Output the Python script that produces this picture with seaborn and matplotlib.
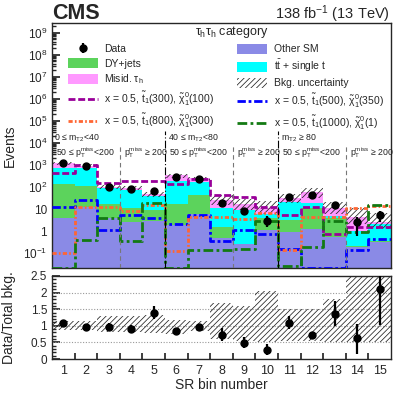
import numpy as np
import pandas as pd
import seaborn as sns
import matplotlib.pyplot as plt
from matplotlib.patches import Patch
from matplotlib.lines import Line2D
from matplotlib.ticker import LogLocator, FuncFormatter, MultipleLocator, NullFormatter

# signal region bins
sr_bins = list(range(1, 16))
bin_edges = [b - 0.5 for b in sr_bins] + [15.5]

# stacked backgrounds, events per bin
other_sm = [4, 12, 3.8, 2.6, 3, 1.8, 6, 0.47, 0.25, 1.1, 0.87, 1.2, 0.55, 0.19, 0.33]
dy_jets = [128, 103, 14, 8.4, 6, 16, 38, 1.1, 0.02, 2.9, 2.3, 9.8, 3.45, 0.02, 0.02]
ttbar = [618, 585, 70, 61, 31, 168, 130, 9.9, 8.7, 1.8, 16.8, 7, 1, 0.8, 1.65]
misid_tau = [430, 240, 12, 15, 6, 164, 76, 14.5, 8, 5.2, 13, 42, 6, 3.2, 0.5]

# observed data
data_events = [1286, 893, 97, 79, 64, 294, 243, 19, 8, 3, 36, 43, 15, 2.6, 5.3]
# stat. uncertainty of data/total (down, up)
ratio_err_lo = [0.05, 0.04, 0.1, 0.12, 0.2, 0.04, 0.06, 0.18, 0.15, 0.14, 0.2, 0.09, 0.38, 0.47, 1.1]
ratio_err_hi = [0.05, 0.04, 0.1, 0.12, 0.22, 0.04, 0.06, 0.2, 0.18, 0.18, 0.21, 0.1, 0.38, 0.43, 1.3]

# bkg. uncertainty band, relative to total bkg.
unc_lo = [0.86, 0.87, 0.8, 0.8, 0.78, 0.75, 0.83, 0.6, 0.55, 0.52, 0.55, 0.55, 0.52, 0.52, 0.52]
unc_hi = [1.14, 1.13, 1.3, 1.3, 1.34, 1.17, 1.15, 1.7, 1.6, 2.05, 1.52, 1.52, 1.8, 2.6, 2.6]

# signal benchmarks
sig_300_100 = [420, 1000, 160, 180, 180, 130, 225, 44, 36, 12.6, 5.3, 12, 0.7, 1.5, 1.5]
sig_500_350 = [12, 25, 1.1, 5.4, 4, 2, 5.4, 0.35, 1.1, 0.7, 0.16, 0.022, 0.022, 0.14, 0.42]
sig_800_300 = [0.1, 12, 12, 8, 16, 0.12, 4.5, 4.5, 3.6, 6.4, 0.14, 4.5, 4.5, 11.5, 14]
sig_1000_1 = [0.022, 0.4, 4, 0.35, 18, 0.022, 0.14, 0.14, 0.16, 3, 0.025, 0.18, 3, 0.9, 16]

col_other = '#8a8ae6'
col_dy = '#5cd35c'
col_tt = '#00ffff'
col_misid = '#ff99ff'
hatch_pat = '//////'

sns.set_theme(style='ticks')
plt.rcParams['font.family'] = ['Liberation Sans', 'DejaVu Sans']
plt.rcParams['mathtext.fontset'] = 'custom'
plt.rcParams['mathtext.rm'] = 'Liberation Sans'
plt.rcParams['mathtext.it'] = 'Liberation Sans'
plt.rcParams['mathtext.sf'] = 'Liberation Sans'
plt.rcParams['mathtext.bf'] = 'Liberation Sans:bold'
plt.rcParams['hatch.linewidth'] = 0.55
plt.rcParams['axes.linewidth'] = 1.0

fig = plt.figure(figsize=(4.11, 3.95), dpi=100)
ax = fig.add_axes([52 / 411, 1 - 268 / 395, 339 / 411, 245 / 395])
ax_r = fig.add_axes([52 / 411, 1 - 359 / 395, 339 / 411, 83 / 395])

# stacked backgrounds
bkg = pd.DataFrame({
    'bin': sr_bins * 4,
    'events': other_sm + dy_jets + ttbar + misid_tau,
    'process': ['Other SM'] * 15 + ['DY+jets'] * 15 + ['ttbar'] * 15 + ['Misid'] * 15,
})
sns.histplot(data=bkg, x='bin', weights='events', hue='process',
             hue_order=['Misid', 'ttbar', 'DY+jets', 'Other SM'],
             palette={'Misid': col_misid, 'ttbar': col_tt, 'DY+jets': col_dy, 'Other SM': col_other},
             multiple='stack', bins=bin_edges, element='step', fill=True, alpha=1,
             linewidth=0, legend=False, ax=ax)

total = np.array(other_sm) + np.array(dy_jets) + np.array(ttbar) + np.array(misid_tau)
band_lo = total * np.array(unc_lo)
band_hi = total * np.array(unc_hi)
ax.fill_between(bin_edges, np.append(band_lo, band_lo[-1]), np.append(band_hi, band_hi[-1]),
                step='post', facecolor='none', edgecolor='#222222', hatch=hatch_pat, linewidth=0, zorder=2)

# signal lines
signals = [
    (sig_300_100, '#990099', (0, (2.5, 1.0))),
    (sig_500_350, '#0000ff', (0, (3.0, 1.0, 1.0, 1.0))),
    (sig_800_300, '#ff6633', (0, (1.5, 0.8, 0.6, 0.8))),
    (sig_1000_1, '#137a13', (0, (3.5, 1.2, 1.0, 1.2))),
]
for vals, c, ls in signals:
    sdf = pd.DataFrame({'bin': sr_bins, 'events': vals})
    sns.histplot(data=sdf, x='bin', weights='events', bins=bin_edges, element='step',
                 fill=False, color=c, linewidth=2.0, linestyle=ls, ax=ax, zorder=4)

data_arr = np.array(data_events)
err_lo = np.array(ratio_err_lo) * total
err_hi = np.array(ratio_err_hi) * total
data_h = ax.errorbar(sr_bins, data_arr, yerr=[err_lo, err_hi], fmt='o', color='black',
                     ms=5, elinewidth=1.6, capsize=0, zorder=6)

ax.set_yscale('log')
ax.set_xlim(0.5, 15.5)
ax.set_ylim(0.021, 2.8e9)
ax.set_xlabel('')
ax.set_ylabel('Events', fontsize=10)
ax.yaxis.set_label_coords(-0.105, 0.5)

def log_fmt(v, pos):
    e = int(round(np.log10(v)))
    if e == 0:
        return '1'
    if e == 1:
        return '10'
    return '$10^{%d}$' % e

ax.yaxis.set_major_locator(LogLocator(base=10, numticks=50))
ax.yaxis.set_minor_locator(LogLocator(base=10, subs=np.arange(2, 10), numticks=50))
ax.yaxis.set_major_formatter(FuncFormatter(log_fmt))
ax.yaxis.set_minor_formatter(NullFormatter())
ax.set_xticks(bin_edges[1:-1])
ax.set_xticklabels([])
ax.tick_params(which='both', direction='in', labelsize=8.5)
ax.tick_params(which='major', length=6)
ax.tick_params(which='minor', length=3)
ax.tick_params(axis='x', length=4)

# region dividers and labels
for xd in [5.5, 10.5]:
    ax.axvline(xd, ymin=0, ymax=0.56, color='black', lw=0.8, ls=(0, (7, 2, 1, 2)), zorder=5)
for xd in [3.5, 8.5, 13.5]:
    ax.axvline(xd, ymin=0, ymax=0.5, color='#777777', lw=0.8, ls=(0, (4, 3)), zorder=5)

mt2_labels = ['0 ≤ m$_{\\rm T2}$<40', '40 ≤ m$_{\\rm T2}$<80', 'm$_{\\rm T2}$ ≥ 80']
mt2_xpos = [0.006, 0.342, 0.676]
for lab, xp in zip(mt2_labels, mt2_xpos):
    ax.text(xp, 0.531, lab, transform=ax.transAxes, fontsize=6.3, va='center', ha='left', color='#222222')
ptm_labels = ['50 ≤ p$_{\\rm T}^{\\rm miss}$<200', 'p$_{\\rm T}^{\\rm miss}$ ≥ 200'] * 3
ptm_xpos = [0.012, 0.213, 0.345, 0.545, 0.678, 0.878]
for lab, xp in zip(ptm_labels, ptm_xpos):
    ax.text(xp, 0.47, lab, transform=ax.transAxes, fontsize=6.3, va='center', ha='left', color='#222222')

ax.text(0.531, 0.963, r'$\tau_{\rm h}\tau_{\rm h}$ category', transform=ax.transAxes,
        fontsize=9, ha='center', va='center')

# legends
def sig_line(i):
    vals, c, ls = signals[i]
    return Line2D([], [], color=c, lw=2.0, ls=ls)

left_h = [data_h, Patch(facecolor=col_dy, lw=0), Patch(facecolor=col_misid, lw=0), sig_line(0), sig_line(2)]
left_l = ['Data', 'DY+jets', r'Misid. $\tau_{\rm h}$',
          r'x = 0.5, $\tilde{\rm t}_{1}$(300), $\tilde{\chi}_{1}^{0}$(100)',
          r'x = 0.5, $\tilde{\rm t}_{1}$(800), $\tilde{\chi}_{1}^{0}$(300)']
right_h = [Patch(facecolor=col_other, lw=0), Patch(facecolor=col_tt, lw=0),
           Patch(facecolor='white', edgecolor='#222222', hatch=hatch_pat, lw=0), sig_line(1), sig_line(3)]
right_l = ['Other SM', r't$\bar{\rm t}$ + single t', 'Bkg. uncertainty',
           r'x = 0.5, $\tilde{\rm t}_{1}$(500), $\tilde{\chi}_{1}^{0}$(350)',
           r'x = 0.5, $\tilde{\rm t}_{1}$(1000), $\tilde{\chi}_{1}^{0}$(1)']
leg_kw = dict(loc='upper left', frameon=False, fontsize=7.5, handlelength=2.9, handleheight=1.1,
              handletextpad=0.6, labelspacing=0.36, borderpad=0, borderaxespad=0)
leg1 = ax.legend(left_h, left_l, bbox_to_anchor=(0.047, 0.915), **leg_kw)
ax.add_artist(leg1)
ax.legend(right_h, right_l, bbox_to_anchor=(0.546, 0.915), **leg_kw)

# ratio panel
for yg in [0.5, 1.0, 1.5, 2.0]:
    ax_r.axhline(yg, color='#999999', lw=0.8, ls=(0, (1, 1.5)), zorder=1)
ax_r.fill_between(bin_edges, unc_lo + [unc_lo[-1]], unc_hi + [unc_hi[-1]], step='post',
                  facecolor='none', edgecolor='#222222', hatch=hatch_pat, linewidth=0, zorder=2)
ratio = data_arr / total
ax_r.errorbar(sr_bins, ratio, yerr=[ratio_err_lo, ratio_err_hi], fmt='o', color='black',
              ms=5, elinewidth=1.6, capsize=0, zorder=6, clip_on=True)
ax_r.set_xlim(0.5, 15.5)
ax_r.set_ylim(0, 2.5)
ax_r.yaxis.set_major_locator(MultipleLocator(0.5))
ax_r.yaxis.set_minor_locator(MultipleLocator(0.1))
ax_r.yaxis.set_major_formatter(FuncFormatter(lambda v, p: '%g' % v))
ax_r.set_xticks(bin_edges[1:-1])
ax_r.set_xticklabels([])
ax_r.set_xticks(sr_bins, minor=True)
ax_r.set_xticklabels([str(b) for b in sr_bins], minor=True)
ax_r.tick_params(which='both', direction='in', labelsize=8.5)
ax_r.tick_params(axis='y', which='major', length=6)
ax_r.tick_params(axis='y', which='minor', length=3)
ax_r.tick_params(axis='x', which='major', length=4)
ax_r.tick_params(axis='x', which='minor', length=0, pad=4, labelsize=9)
ax_r.set_ylabel('Data/Total bkg.', fontsize=10)
ax_r.yaxis.set_label_coords(-0.105, 0.5)
ax_r.set_xlabel('SR bin number', fontsize=10)
ax_r.xaxis.set_label_coords(0.5, -0.23)

fig.text(52 / 411, 1 - 19 / 395, 'CMS', fontsize=15.5, fontweight='bold', ha='left', va='baseline')
fig.text(390 / 411, 1 - 19 / 395, r'138 fb$^{-1}$ (13 TeV)', fontsize=10.5, ha='right', va='baseline')

fig.savefig('out.png', dpi=100)
